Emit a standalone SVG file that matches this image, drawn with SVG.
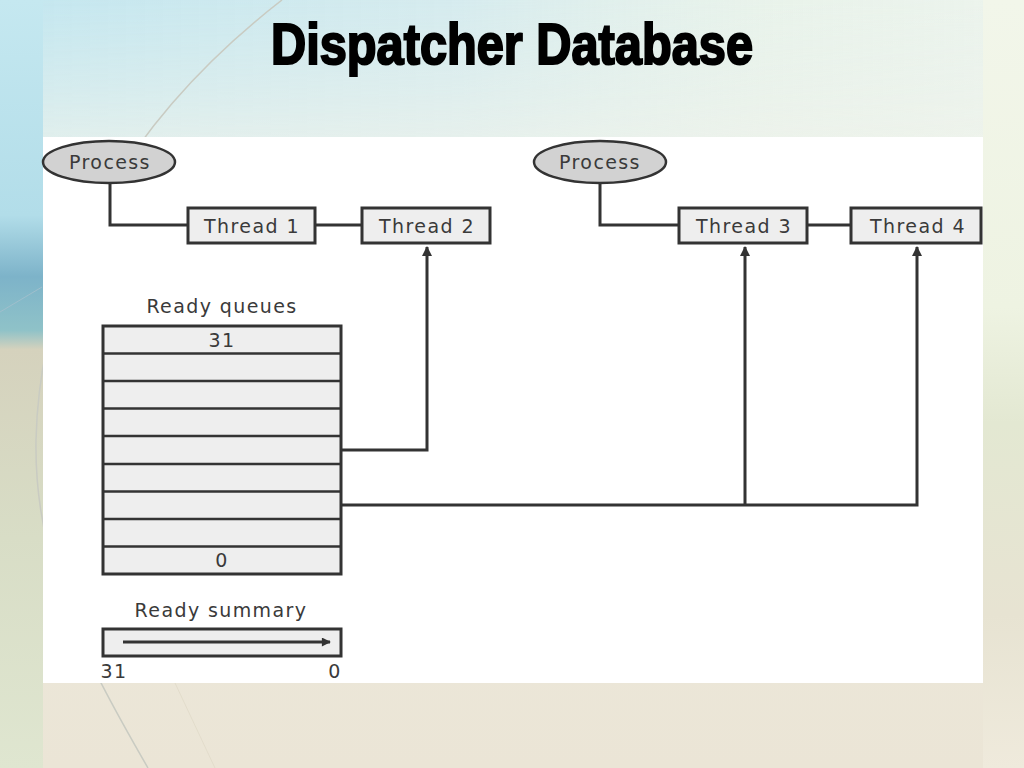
<svg xmlns="http://www.w3.org/2000/svg" width="1024" height="768" viewBox="0 0 1024 768">
<defs>
<linearGradient id="bgV" x1="0" y1="0" x2="0" y2="1">
<stop offset="0" stop-color="#e2f0ef"/>
<stop offset="0.2" stop-color="#eef3ec"/>
<stop offset="0.55" stop-color="#ece9dc"/>
<stop offset="1" stop-color="#ebe5d6"/>
</linearGradient>
<linearGradient id="bgTop" x1="0" y1="0" x2="1" y2="0">
<stop offset="0" stop-color="#bfe5ef" stop-opacity="0.9"/>
<stop offset="0.45" stop-color="#d3eaee" stop-opacity="0.8"/>
<stop offset="0.75" stop-color="#eef5e8" stop-opacity="0.6"/>
<stop offset="1" stop-color="#f6f7ea" stop-opacity="0.5"/>
</linearGradient>
<linearGradient id="topFade" x1="0" y1="0" x2="0" y2="1">
<stop offset="0" stop-color="#fff" stop-opacity="1"/>
<stop offset="1" stop-color="#fff" stop-opacity="0"/>
</linearGradient>
<mask id="topMask"><rect x="0" y="0" width="1024" height="200" fill="url(#topFade)"/></mask>
<linearGradient id="leftStrip" x1="0" y1="0" x2="0" y2="1">
<stop offset="0" stop-color="#c5e8f0"/>
<stop offset="0.28" stop-color="#b2dde9"/>
<stop offset="0.36" stop-color="#7db3c9"/>
<stop offset="0.43" stop-color="#8fc2c8"/>
<stop offset="0.455" stop-color="#d5d2bd"/>
<stop offset="0.7" stop-color="#d8ddc6"/>
<stop offset="1" stop-color="#dfe6d0"/>
</linearGradient>
<linearGradient id="rightStrip" x1="0" y1="0" x2="0" y2="1">
<stop offset="0" stop-color="#f2f6ea"/>
<stop offset="0.4" stop-color="#eef3e2"/>
<stop offset="0.55" stop-color="#e3e8d2"/>
<stop offset="0.8" stop-color="#e7e3d2"/>
<stop offset="1" stop-color="#efeadc"/>
</linearGradient>
<marker id="arrowHead" viewBox="0 0 10 10" refX="9" refY="5" markerWidth="10" markerHeight="10" markerUnits="userSpaceOnUse" orient="auto">
<path d="M0,0 L10,5 L0,10 Z" fill="#333"/>
</marker>
<marker id="arrowSmall" viewBox="0 0 10 10" refX="9" refY="5" markerWidth="11" markerHeight="9" markerUnits="userSpaceOnUse" orient="auto">
<path d="M0,0 L10,5 L0,10 Z" fill="#333"/>
</marker>
<style>
.lbl{font-family:"DejaVu Sans","Liberation Sans",sans-serif;font-size:19px;fill:#3a3a3a;letter-spacing:1.4px;text-anchor:middle}
.box{fill:#eeeeee;stroke:#333;stroke-width:3}
.proc{fill:#d2d2d2;stroke:#333;stroke-width:2.5}
.wire{fill:none;stroke:#333;stroke-width:3}
.row{stroke:#333;stroke-width:2.5}
</style>
</defs>

<g id="background">
<rect x="0" y="0" width="1024" height="768" fill="url(#bgV)"/>
<rect x="0" y="0" width="1024" height="200" fill="url(#bgTop)" mask="url(#topMask)"/>
<rect x="0" y="0" width="43" height="768" fill="url(#leftStrip)"/>
<rect x="983" y="0" width="41" height="768" fill="url(#rightStrip)"/>
<path d="M282,0 C140,110 40,260 36,440 C34,560 80,650 148,768" fill="none" stroke="#c9cbc2" stroke-width="1.5"/>
<path d="M0,312 L42,287" fill="none" stroke="#9fbfcc" stroke-width="1"/>
<path d="M175,683 L215,768" fill="none" stroke="#e2dccb" stroke-width="1"/>
</g>

<text id="title" x="512" y="64" font-family="Liberation Sans, Arial, sans-serif" font-weight="bold" font-size="58" fill="#000" stroke="#000" stroke-width="2.2" text-anchor="middle" textLength="482" lengthAdjust="spacingAndGlyphs">Dispatcher Database</text>

<rect id="panel" x="43" y="137" width="940" height="546" fill="#ffffff"/>

<g id="connectors">
<polyline class="wire" points="110,183 110,225 188,225"/>
<line class="wire" x1="315" y1="225" x2="362" y2="225"/>
<polyline class="wire" points="600,184 600,225 679,225"/>
<line class="wire" x1="807" y1="225" x2="851" y2="225"/>
<polyline class="wire" points="341,450 427,450 427,247" marker-end="url(#arrowHead)"/>
<polyline class="wire" points="341,505 917,505 917,247" marker-end="url(#arrowHead)"/>
<line class="wire" x1="745" y1="505" x2="745" y2="247" marker-end="url(#arrowHead)"/>
</g>

<g id="process1">
<ellipse class="proc" cx="109" cy="162" rx="66" ry="21"/>
<text class="lbl" x="110" y="169">Process</text>
</g>
<g id="thread1">
<rect class="box" x="188" y="208" width="127" height="35"/>
<text class="lbl" x="252" y="233">Thread 1</text>
</g>
<g id="thread2">
<rect class="box" x="362" y="208" width="128" height="35"/>
<text class="lbl" x="427" y="233">Thread 2</text>
</g>
<g id="process2">
<ellipse class="proc" cx="600" cy="162" rx="66" ry="21"/>
<text class="lbl" x="600" y="169">Process</text>
</g>
<g id="thread3">
<rect class="box" x="679" y="208" width="128" height="35"/>
<text class="lbl" x="744" y="233">Thread 3</text>
</g>
<g id="thread4">
<rect class="box" x="851" y="208" width="130" height="35"/>
<text class="lbl" x="918" y="233">Thread 4</text>
</g>

<g id="ready-queues">
<text class="lbl" x="222" y="313">Ready queues</text>
<rect class="box" x="103" y="326" width="238" height="248"/>
<line class="row" x1="103" y1="353.5" x2="341" y2="353.5"/>
<line class="row" x1="103" y1="381" x2="341" y2="381"/>
<line class="row" x1="103" y1="408.5" x2="341" y2="408.5"/>
<line class="row" x1="103" y1="436" x2="341" y2="436"/>
<line class="row" x1="103" y1="464" x2="341" y2="464"/>
<line class="row" x1="103" y1="491.5" x2="341" y2="491.5"/>
<line class="row" x1="103" y1="519" x2="341" y2="519"/>
<line class="row" x1="103" y1="546.5" x2="341" y2="546.5"/>
<text class="lbl" x="222" y="347">31</text>
<text class="lbl" x="222" y="567">0</text>
</g>

<g id="ready-summary">
<text class="lbl" x="221" y="617">Ready summary</text>
<rect class="box" x="103" y="629" width="238" height="27"/>
<line class="wire" x1="123" y1="642" x2="330" y2="642" stroke-width="2" marker-end="url(#arrowSmall)"/>
<text class="lbl" x="114" y="678">31</text>
<text class="lbl" x="335" y="678">0</text>
</g>
</svg>
